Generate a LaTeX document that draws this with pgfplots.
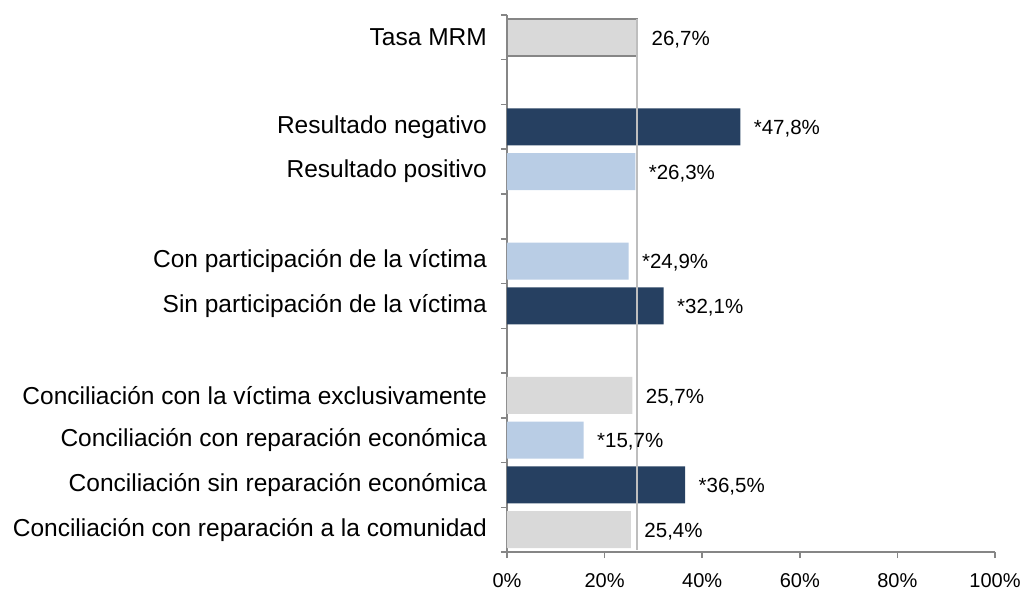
\documentclass[border=0pt]{standalone}
\usepackage{pgfplots}
\pgfplotsset{compat=1.18}
\usepackage{fontspec}
\setmainfont{Liberation Sans}
\definecolor{navy}{RGB}{38,64,97}
\definecolor{lblue}{RGB}{185,205,229}
\definecolor{lgray}{RGB}{217,217,217}
\definecolor{axgray}{RGB}{134,134,134}
\definecolor{refline}{RGB}{190,190,190}
\begin{document}
\begin{tikzpicture}
\begin{axis}[
  at={(0,0)}, anchor=south west,
  scale only axis, width=488pt, height=537pt,
  xbar, bar width=37pt, bar shift=0pt,
  xmin=0, xmax=100,
  ymin=-0.5, ymax=11.5, y dir=reverse,
  axis x line*=bottom, axis y line*=left,
  axis line style={draw=axgray, line width=1.5pt},
  xtick={0,20,40,60,80,100},
  xticklabels={0\%,20\%,40\%,60\%,80\%,100\%},
  x tick style={draw=axgray, line width=1.5pt},
  tick align=outside, major tick length=6pt,
  xticklabel style={font=\fontsize{20}{24}\selectfont, yshift=-12pt},
  ytick={0,2,3,5,6,8,9,10,11},
  yticklabels={Tasa MRM,Resultado negativo,Resultado positivo,Con participación de la víctima,Sin participación de la víctima,Conciliación con la víctima exclusivamente,Conciliación con reparación económica,Conciliación sin reparación económica,Conciliación con reparación a la comunidad},
  y tick style={draw=none},
  yticklabel style={font=\fontsize{24.5}{28}\selectfont, inner sep=0pt, xshift=-14pt},
  extra y ticks={-0.5,0.5,1.5,2.5,3.5,4.5,5.5,6.5,7.5,8.5,9.5,10.5,11.5},
  extra y tick labels={},
  extra y tick style={y tick style={draw=axgray, line width=1.5pt}, major tick length=6pt},
  nodes near coords={\pgfplotspointmeta},
  point meta=explicit symbolic,
  nodes near coords style={anchor=west, font=\fontsize{20.5}{24}\selectfont, text=black, xshift=10pt, yshift=-2pt},
  clip=false,
]
\addplot[fill=lgray, draw=axgray, line width=2pt] coordinates {(26.7,0) [26,7\%]};
\addplot[fill=navy, draw=none] coordinates {(47.8,2) [*47,8\%] (32.1,6) [*32,1\%] (36.5,10) [*36,5\%]};
\addplot[fill=lblue, draw=none] coordinates {(26.3,3) [*26,3\%] (24.9,5) [*24,9\%] (15.7,9) [*15,7\%]};
\addplot[fill=lgray, draw=none] coordinates {(25.7,8) [25,7\%] (25.4,11) [25,4\%]};
\draw[refline, line width=2pt] (axis cs:26.7,-0.42) -- (axis cs:26.7,11.45);
\end{axis}
\pgfresetboundingbox
\path (-507pt,-39pt) rectangle (522pt,552pt);
\end{tikzpicture}
\end{document}
